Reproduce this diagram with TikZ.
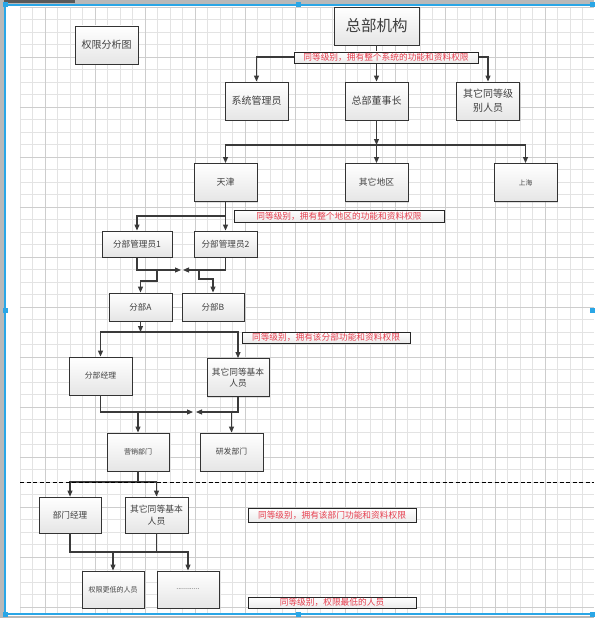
\documentclass[tikz,border=0pt]{standalone}
\usepackage{fontspec}
\setmainfont{Noto Sans CJK SC}
\usetikzlibrary{arrows.meta,shadows}

\definecolor{linegray}{HTML}{3A3A3A}
\definecolor{notered}{HTML}{E63E4E}
\definecolor{selblue}{HTML}{2AA6E6}
\definecolor{gridminor}{HTML}{E3E3E3}
\definecolor{gridmajor}{HTML}{CDCDCD}

\tikzset{
  box/.style={draw=black!80, line width=0.9pt, top color=white, bottom color=black!10,
    text=black!75, minimum width=63pt, minimum height=38pt, inner sep=1pt, align=center,
    font=\fontsize{10}{14}\selectfont,
    drop shadow={shadow xshift=1pt, shadow yshift=-1pt, opacity=.25}},
  note/.style={draw=black!85, line width=0.9pt, top color=white, bottom color=black!8,
    text=notered, minimum height=11pt, inner sep=0pt, font=\fontsize{8.7}{10}\selectfont,
    drop shadow={shadow xshift=1pt, shadow yshift=-1pt, opacity=.25}},
  wire/.style={draw=linegray, line width=1.1pt},
  link/.style={wire, -{Triangle[length=6pt,width=5pt]}},
}

\begin{document}
\begin{tikzpicture}[x=1pt,y=-1pt]
\useasboundingbox (0,0) rectangle (594,618);
% window frame
\fill[white] (0,0) rectangle (594,618);
\fill[gray!55] (0,0) rectangle (594,4);
\fill[black!65] (0,0) rectangle (75,3);
\fill[gray!55] (0,0) rectangle (4,618);
\fill[gray!55] (0,616) rectangle (594,618);
% grid
\foreach \i in {0,...,45}
  \draw[gridminor, line width=.8pt] (20+12.5*\i,7) -- (20+12.5*\i,613);
\foreach \i in {0,...,48}
  \draw[gridminor, line width=.8pt] (20,7+12.5*\i) -- (594,7+12.5*\i);
\foreach \x in {45,95,...,545}
  \draw[gridmajor, line width=.8pt] (\x,7) -- (\x,613);
\foreach \y in {7,57,...,607}
  \draw[gridmajor, line width=.8pt] (20,\y) -- (594,\y);
% selection
\draw[selblue, line width=1.6pt] (594,5) -- (5,5) -- (5,614) -- (594,614);
\foreach \p in {(5,5),(298,5),(592,5),(5,310),(592,310),(5,614),(298,614),(592,614)}
  \fill[selblue] \p +(-2.5,-2.5) rectangle +(2.5,2.5);

% boxes
\node[box] (title) at (106.5,45) {权限分析图};
\node[box, minimum width=85pt, font=\fontsize{15.5}{18}\selectfont] (hq) at (376.5,26) {总部机构};
\node[box] (sysadm) at (256.5,101) {系统管理员};
\node[box] (chair) at (376.5,101) {总部董事长};
\node[box] (hqpeer) at (488,101) {其它同等级\\别人员};
\node[box, font=\fontsize{9}{12}\selectfont] (tianjin) at (225.5,182.5) {天津};
\node[box, font=\fontsize{8.8}{12}\selectfont] (otherreg) at (376.5,182.5) {其它地区};
\node[box, font=\fontsize{6.7}{9}\selectfont] (shanghai) at (525.5,182.5) {上海};
\node[box, minimum width=70pt, minimum height=26pt, font=\fontsize{8.6}{11}\selectfont] (adm1) at (137,244) {分部管理员1};
\node[box, minimum height=26pt, font=\fontsize{8.6}{11}\selectfont] (adm2) at (225.5,244) {分部管理员2};
\node[box, minimum height=28pt, font=\fontsize{8.5}{11}\selectfont] (brA) at (140.5,307) {分部A};
\node[box, minimum width=62pt, minimum height=28pt, font=\fontsize{8.5}{11}\selectfont] (brB) at (213,307) {分部B};
\node[box, font=\fontsize{7.8}{10}\selectfont] (brmgr) at (100.5,376) {分部经理};
\node[box, minimum width=62pt, font=\fontsize{8.7}{10.5}\selectfont] (brpeer) at (238,377.5) {其它同等基本\\人员};
\node[box, minimum width=62pt, font=\fontsize{7}{9}\selectfont] (sales) at (138,452) {营销部门};
\node[box, font=\fontsize{7.8}{10}\selectfont] (rnd) at (231.5,452) {研发部门};
\node[box, minimum width=62pt, minimum height=36pt, font=\fontsize{8.6}{11}\selectfont] (dmgr) at (70,515) {部门经理};
\node[box, minimum height=36pt, font=\fontsize{8.8}{12.3}\selectfont] (dpeer) at (156.5,515) {其它同等基本\\人员};
\node[box, minimum width=62pt, minimum height=37pt, font=\fontsize{7}{9}\selectfont] (lower) at (113,589.5) {权限更低的人员};
\node[box, minimum width=62pt, minimum height=37pt, font=\fontsize{7}{9}\selectfont] (dots) at (188,589.5) {............};

% junctions
\coordinate (j1) at (376.5,57);
\coordinate (j2) at (376.5,145);
\coordinate (j3) at (225.5,216);
\coordinate (j4l) at (181,270);
\coordinate (j4r) at (183,270);
\coordinate (j5l) at (157,270);
\coordinate (j5r) at (199,270);
\coordinate (j6) at (140.5,332);
\coordinate (j7l) at (193,412);
\coordinate (j7r) at (196,412);
\coordinate (j8l) at (138,412);
\coordinate (j8r) at (231.5,412);
\coordinate (j9) at (138,482);
\coordinate (j10) at (156.5,552);

% connectors
\draw[link] (hq) -- (chair);
\draw[link] (j1) -| (sysadm);
\draw[link] (j1) -| (hqpeer);
\draw[link] (chair) -- (j2);
\draw[link] (j2) -- (otherreg);
\draw[link] (j2) -| (tianjin);
\draw[link] (j2) -| (shanghai);
\draw[link] (tianjin) -- (adm2);
\draw[link] (j3) -| (adm1);
\draw[link] (adm1) |- (j4l);
\draw[link] (adm2) |- (j4r);
\draw[link] (j5l) -- (157,281) -| (brA);
\draw[link] (j5r) -- (199,279) -| (brB);
\draw[link] (brA) -- (j6);
\draw[link] (j6) -| (brmgr);
\draw[link] (j6) -| (brpeer);
\draw[link] (brmgr) |- (j7l);
\draw[link] (brpeer) |- (j7r);
\draw[link] (j8l) -- (sales);
\draw[link] (j8r) -- (rnd);
\draw[wire] (sales) -- (j9);
\draw[link] (j9) -| (dmgr);
\draw[link] (j9) -| (dpeer);
\draw[wire] (dmgr) |- (j10);
\draw[wire] (dpeer) -- (j10);
\draw[link] (j10) -| (lower);
\draw[link] (j10) -| (dots);
% section divider
\draw[black, line width=1pt, dash pattern=on 4pt off 2.5pt] (20,482) -- (594,482);

% notes
\node[note, minimum width=184pt] (n1) at (386,57.5) {同等级别，拥有整个系统的功能和资料权限};
\node[note, minimum width=210pt, minimum height=12pt] (n2) at (339,216) {同等级别，拥有整个地区的功能和资料权限};
\node[note, minimum width=168pt] (n3) at (326,337.5) {同等级别，拥有该分部功能和资料权限};
\node[note, minimum width=168pt, minimum height=14pt] (n4) at (332,515) {同等级别，拥有该部门功能和资料权限};
\node[note, minimum width=168pt] (n5) at (332,602.5) {同等级别，权限最低的人员};
\end{tikzpicture}
\end{document}
